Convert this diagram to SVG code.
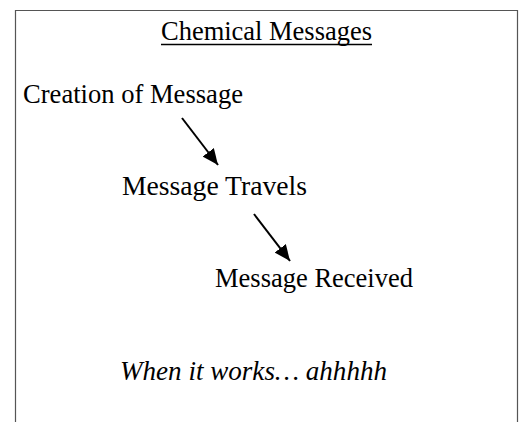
<svg xmlns="http://www.w3.org/2000/svg" width="524" height="422" viewBox="0 0 524 422">
<defs>
<style>
.t{font-family:"Liberation Serif","Times New Roman",serif;font-size:26.5px;fill:#000}
.i{font-style:italic}
.c{stroke:#000;stroke-width:2;fill:none}
</style>
<marker id="ah" markerUnits="userSpaceOnUse" markerWidth="16" markerHeight="14" refX="16" refY="7" orient="auto">
<path d="M0,0 L16,7 L0,14 Z" fill="#000"/>
</marker>
</defs>
<rect width="524" height="422" fill="#fff"/>
<path d="M15.5,430 V10.5 H517.5 V430" fill="none" stroke="#555" stroke-width="1.2"/>
<g id="title">
<text class="t" x="161" y="40" textLength="211" lengthAdjust="spacingAndGlyphs">Chemical Messages</text>
<line x1="161" y1="44.5" x2="372" y2="44.5" stroke="#000" stroke-width="1.5"/>
</g>
<g id="creation">
<text class="t" x="23" y="103" textLength="220" lengthAdjust="spacingAndGlyphs">Creation of Message</text>
</g>
<g id="travels">
<text class="t" x="122" y="195" textLength="185" lengthAdjust="spacingAndGlyphs">Message Travels</text>
</g>
<g id="received">
<text class="t" x="215" y="287" textLength="198" lengthAdjust="spacingAndGlyphs">Message Received</text>
</g>
<g id="note">
<text class="t i" x="120" y="380" textLength="267" lengthAdjust="spacingAndGlyphs">When it works… ahhhhh</text>
</g>
<g id="connectors">
<line class="c" x1="182" y1="118" x2="218" y2="165" marker-end="url(#ah)"/>
<line class="c" x1="254" y1="214" x2="290" y2="261" marker-end="url(#ah)"/>
</g>
</svg>
